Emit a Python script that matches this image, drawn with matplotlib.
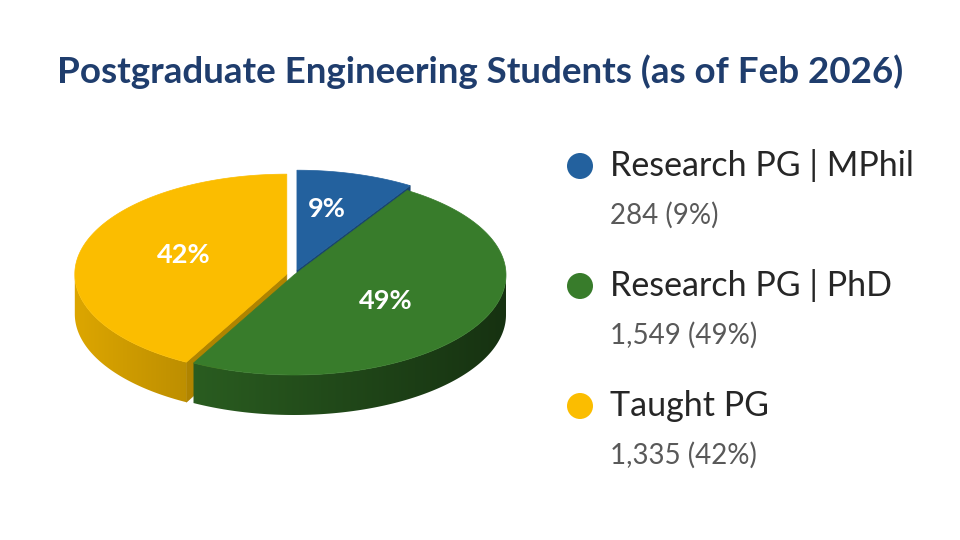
import matplotlib.pyplot as plt
import matplotlib.colors as mcolors
import numpy as np
from matplotlib.patches import Polygon, Circle

categories = ['Research PG | MPhil', 'Research PG | PhD', 'Taught PG']
students = [284, 1549, 1335]
colours = ['#23619e', '#387c2b', '#fbbd00']
explode = [0.05, 0.0, 0.035]

title = 'Postgraduate Engineering Students (as of Feb 2026)'

plt.rcParams['font.family'] = ['Lato', 'DejaVu Sans']

fig = plt.figure(figsize=(9.6, 5.4), dpi=100)
ax = fig.add_axes([0, 0, 1, 1])

# ellipse of the pie top, in pixels
cx, cy, rx, ry, depth = 294, 275, 212, 100, 40


def point(theta, off=(0, 0), r=1.0):
    return (cx + off[0] + r * rx * np.sin(theta), cy + off[1] - r * ry * np.cos(theta))


def shade(colour, x):
    t = (x - (cx - rx)) / (2 * rx)
    f = np.clip(0.87 - 0.47 * t, 0, 1)
    return np.clip(np.array(mcolors.to_rgb(colour))[None, :] * f[:, None], 0, 1)


total = sum(students)
shares = np.array(students) / total
bounds = np.concatenate([[0], np.cumsum(shares)]) * 2 * np.pi

z = 1
# back to front: MPhil, Taught, PhD
for i in [0, 2, 1]:
    a0, a1 = bounds[i], bounds[i + 1]
    mid = (a0 + a1) / 2
    off = (explode[i] * rx * np.sin(mid), -explode[i] * ry * np.cos(mid))
    base = colours[i]
    wall = np.clip(np.array(mcolors.to_rgb(base)) * 0.7, 0, 1)

    # radial walls facing the viewer
    for edge, phi in [(a0, a0 - np.pi / 2), (a1, a1 + np.pi / 2)]:
        if np.cos(phi) < -0.05:
            c = point(0, off, 0)
            e = point(edge, off)
            poly = [c, e, (e[0], e[1] + depth), (c[0], c[1] + depth)]
            ax.add_patch(Polygon(poly, closed=True, facecolor=wall, edgecolor=wall, lw=0.5, zorder=z))
            z += 1

    # curved side wall, shaded left to right
    s0, s1 = max(a0, np.pi / 2), min(a1, 3 * np.pi / 2)
    if s1 > s0:
        th = np.linspace(s0, s1, 120)
        top = [point(t, off) for t in th]
        bottom = [(p[0], p[1] + depth) for p in top[::-1]]
        side = Polygon(top + bottom, closed=True, facecolor='none', edgecolor='none', zorder=z)
        ax.add_patch(side)
        xs = np.linspace(cx - rx - 20, cx + rx + 20, 400)
        img = shade(base, xs)[None, :, :]
        im = ax.imshow(img, extent=(xs[0], xs[-1], cy + ry + depth + 20, cy - 20),
                       aspect='auto', interpolation='bilinear', zorder=z)
        im.set_clip_path(side)
        z += 1

    # top face
    th = np.linspace(a0, a1, 200)
    arc = [point(t, off) for t in th]
    ax.add_patch(Polygon([point(0, off, 0)] + arc, closed=True, facecolor=base,
                         edgecolor=base, lw=0.5, zorder=z))
    z += 1

    # percentage label
    lx = cx + off[0] + 0.5 * rx * np.sin(mid)
    ly = cy + off[1] - 0.6 * ry * np.cos(mid) - 4
    ax.text(lx, ly, '{:.0f}%'.format(shares[i] * 100), color='white', fontsize=19.5,
            fontweight='bold', ha='center', va='center', zorder=50)

ax.text(480, 72, title, color='#1f3d6d', fontsize=26.5, fontweight='bold', ha='center', va='center')

# legend
for i, y in enumerate([166, 286, 406]):
    ax.add_patch(Circle((580, y), 13, facecolor=colours[i], edgecolor='none'))
    ax.text(610, y, categories[i], color='#262626', fontsize=24.5, ha='left', va='center')
    ax.text(610, y + 49, '{:,} ({:.0f}%)'.format(students[i], shares[i] * 100),
            color='#595959', fontsize=20, ha='left', va='center')

ax.set_xlim(0, 960)
ax.set_ylim(540, 0)
ax.axis('off')

fig.savefig('out.png', dpi=100, facecolor='white')
